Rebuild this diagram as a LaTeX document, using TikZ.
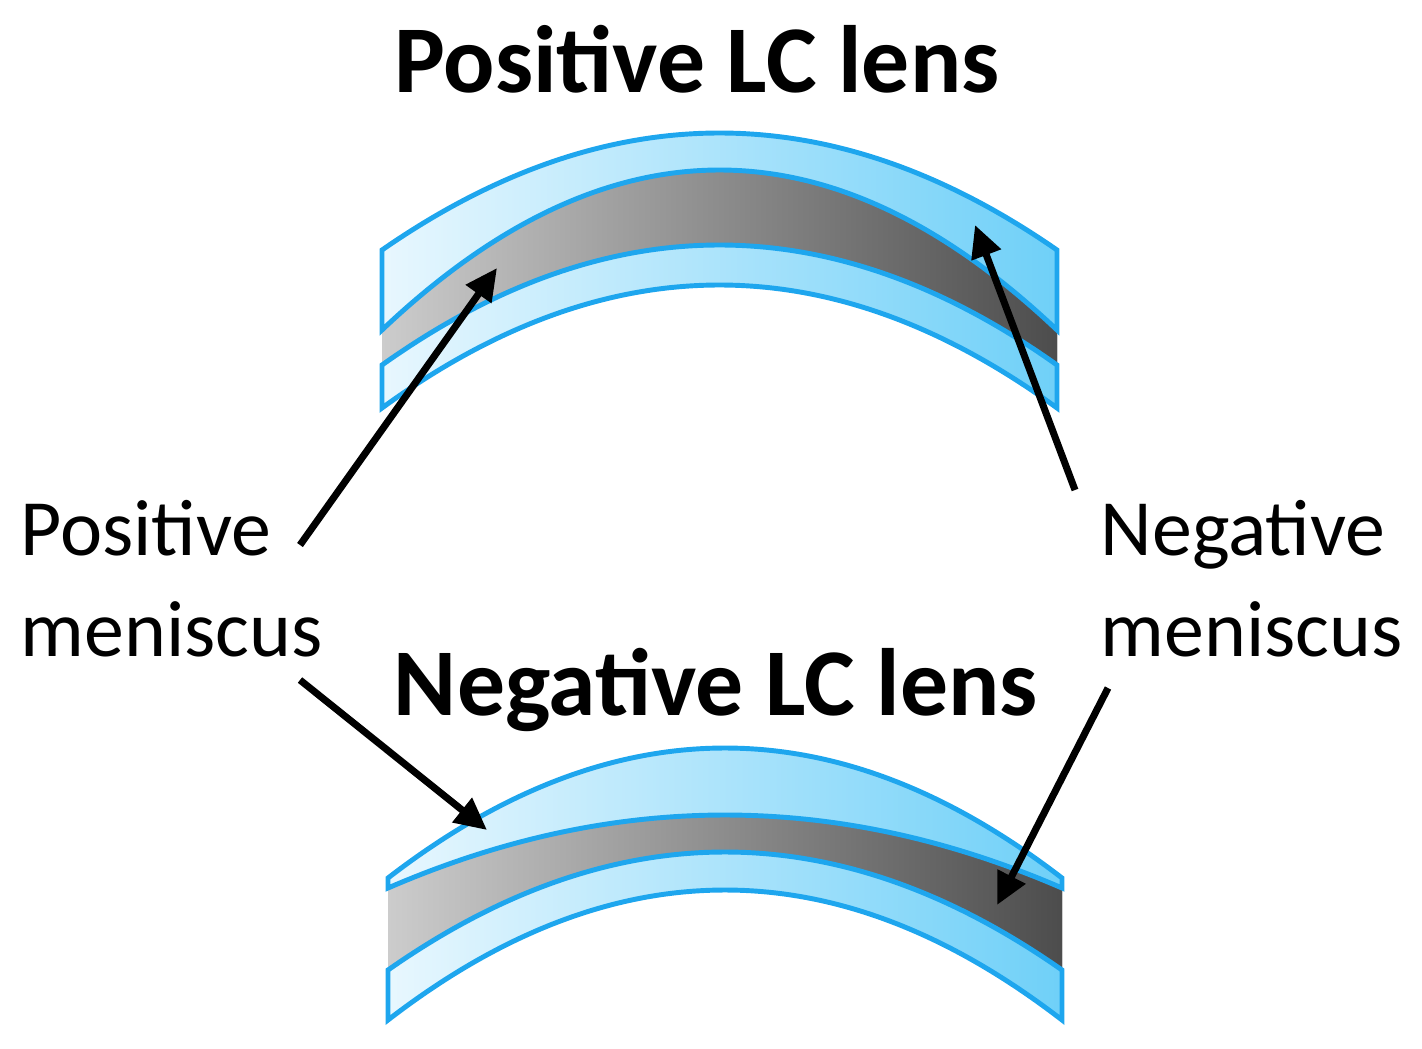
\documentclass[tikz,border=0pt]{standalone}
\usepackage{fontspec}
\setmainfont{Carlito}
\usetikzlibrary{arrows.meta}
\definecolor{lensblue}{HTML}{1EA6EE}
\definecolor{glassL}{HTML}{E8F7FE}
\definecolor{glassR}{HTML}{6FD0F8}
\newcommand\lensband[6]{(#1,#3) .. controls ({#1+(#2-#1)/3},{#3+4/3*(#4-#3)}) and ({#2-(#2-#1)/3},{#3+4/3*(#4-#3)}) .. (#2,#3) -- (#2,#5) .. controls ({#2-(#2-#1)/3},{#5+4/3*(#6-#5)}) and ({#1+(#2-#1)/3},{#5+4/3*(#6-#5)}) .. (#1,#5) -- cycle}
\tikzset{
 glass/.style={draw=lensblue,line width=1.4pt,left color=glassL,right color=glassR},
 lc/.style={draw=none,left color=black!20,right color=black!70},
 ptr/.style={line width=2pt,-{Triangle[length=0.32cm,width=0.3cm]}},
 ttl/.style={font=\fontsize{27.2}{32}\selectfont\bfseries,anchor=base},
 lbl/.style={font=\fontsize{22.7}{28.5}\selectfont,align=left,anchor=north west,inner sep=0pt}
}
\begin{document}
\begin{tikzpicture}[x=0.01cm,y=-0.01cm]
\useasboundingbox (0,0) rectangle (1422,1048);
% top lens
\fill[lc] \lensband{382}{1057}{330}{170}{365}{245};
\path[glass] \lensband{382}{1057}{250}{133}{330}{170};
\path[glass] \lensband{382}{1057}{365}{245}{408}{285};
% bottom lens
\fill[lc] \lensband{388}{1062}{888}{815}{970}{852};
\path[glass] \lensband{388}{1062}{878}{748}{888}{815};
\path[glass] \lensband{388}{1062}{970}{852}{1020}{890};
% titles
\node[ttl] (t1) at (697,92) {Positive LC lens};
\node[ttl] (t2) at (716,715) {Negative LC lens};
\node[lbl] (pm) at (20,500) {Positive\\meniscus};
\node[lbl] (nm) at (1100,500) {Negative\\meniscus};
% arrows
\coordinate (a1s) at (300,545); \coordinate (a1e) at (497,268);
\coordinate (a2s) at (1075,490); \coordinate (a2e) at (975,225);
\coordinate (a3s) at (300,680); \coordinate (a3e) at (487,830);
\coordinate (a4s) at (1108,688); \coordinate (a4e) at (997,905);
\draw[ptr] (a1s) -- (a1e);
\draw[ptr] (a2s) -- (a2e);
\draw[ptr] (a3s) -- (a3e);
\draw[ptr] (a4s) -- (a4e);
\end{tikzpicture}
\end{document}
